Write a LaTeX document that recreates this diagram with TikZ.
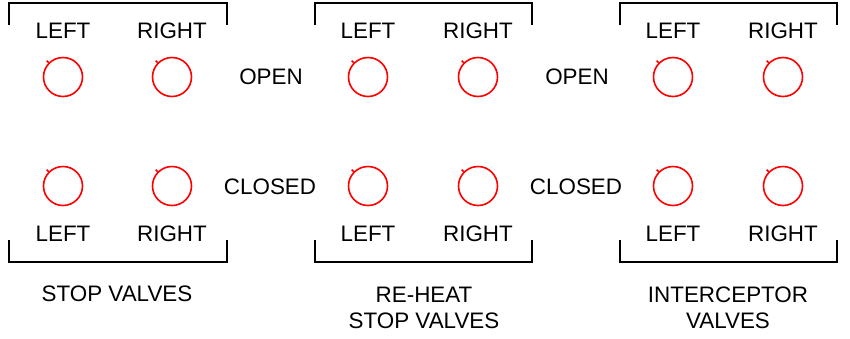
\documentclass[tikz,border=0pt]{standalone}
\usepackage{fontspec}
\setmainfont{Liberation Sans}
\usetikzlibrary{positioning}

\tikzset{
	valve/.style = {circle, draw=red, line width=1.6pt, minimum size=39pt, inner sep=0pt},
	lbl/.style = {font=\fontsize{22.4}{26}\selectfont, inner sep=0pt},
	bracket/.style = {draw=black, line width=1.6pt},
}

\begin{document}
\begin{tikzpicture}[x=1pt, y=-1pt]
	\useasboundingbox (0,0) rectangle (850,338);

	% stop valves
	\node[valve] (sl1) at (63,77) {};
	\node[valve] (sr1) at (172,77) {};
	\node[valve] (sl2) at (63,186) {};
	\node[valve] (sr2) at (172,186) {};

	% re-heat stop valves
	\node[valve] (rl1) at (368,77) {};
	\node[valve] (rr1) at (478,77) {};
	\node[valve] (rl2) at (368,186) {};
	\node[valve] (rr2) at (478,186) {};

	% interceptor valves
	\node[valve] (il1) at (673,77) {};
	\node[valve] (ir1) at (783,77) {};
	\node[valve] (il2) at (673,186) {};
	\node[valve] (ir2) at (783,186) {};

	\foreach \v in {sl1,sr1,sl2,sr2,rl1,rr1,rl2,rr2,il1,ir1,il2,ir2}
		\draw[red, line width=1.6pt] (\v.135) -- ++(-2,-2);

	\node[lbl] at (63,31) {LEFT};
	\node[lbl] at (172,31) {RIGHT};
	\node[lbl] at (368,31) {LEFT};
	\node[lbl] at (478,31) {RIGHT};
	\node[lbl] at (673,31) {LEFT};
	\node[lbl] at (783,31) {RIGHT};

	\node[lbl] at (63,234) {LEFT};
	\node[lbl] at (172,234) {RIGHT};
	\node[lbl] at (368,234) {LEFT};
	\node[lbl] at (478,234) {RIGHT};
	\node[lbl] at (673,234) {LEFT};
	\node[lbl] at (783,234) {RIGHT};

	\node[lbl] (open1) at (271,77) {OPEN};
	\node[lbl] (open2) at (577,77) {OPEN};
	\node[lbl] (closed1) at (270,187) {CLOSED};
	\node[lbl] (closed2) at (576,187) {CLOSED};

	% brackets
	\draw[bracket] (9,25) |- (227,3) -- (227,25);
	\draw[bracket] (315,25) |- (532,3) -- (532,25);
	\draw[bracket] (620,25) |- (837,3) -- (837,25);
	\draw[bracket] (9,240) |- (227,262) -- (227,240);
	\draw[bracket] (315,240) |- (532,262) -- (532,240);
	\draw[bracket] (620,240) |- (837,262) -- (837,240);

	\node[lbl] (stop) at (117,294) {STOP VALVES};
	\node[lbl, align=center] (reheat) at (424,307.5) {RE-HEAT\\STOP VALVES};
	\node[lbl, align=center] (inter) at (728,307.5) {INTERCEPTOR\\VALVES};
\end{tikzpicture}
\end{document}
